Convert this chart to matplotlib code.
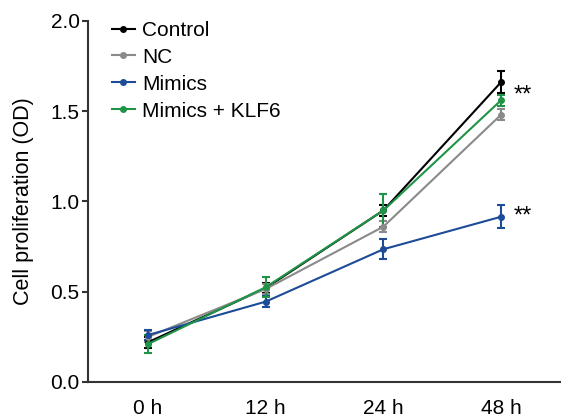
import matplotlib
matplotlib.use("Agg")
import matplotlib.pyplot as plt
from matplotlib.lines import Line2D
import numpy as np

plt.rcParams['font.family'] = ['Liberation Sans', 'DejaVu Sans']

timepoints = ["0 h", "12 h", "24 h", "48 h"]
series_names = ["Control", "NC", "Mimics", "Mimics + KLF6"]
control = [0.22, 0.52, 0.95, 1.66]
control_err = [0.03, 0.03, 0.03, 0.06]
nc = [0.25, 0.515, 0.86, 1.48]
nc_err = [0.03, 0.03, 0.03, 0.03]
mimics = [0.26, 0.445, 0.735, 0.915]
mimics_err = [0.03, 0.03, 0.055, 0.065]
klf6 = [0.21, 0.525, 0.95, 1.56]
klf6_err = [0.05, 0.055, 0.09, 0.03]
star_labels = ["**", "**"]
star_values = [1.585, 0.915]

colors = ["#000000", "#8a8a8a", "#1c4b98", "#1f9447"]

fig = plt.figure(figsize=(5.61, 4.17), dpi=100)
ax = fig.add_axes([0.157, 0.084, 0.843, 0.866])

x = np.arange(len(timepoints))
handles = []
for vals, errs, name, c in zip([control, nc, mimics, klf6],
                               [control_err, nc_err, mimics_err, klf6_err],
                               series_names, colors):
    ax.errorbar(x, vals, yerr=errs, color=c, lw=1.5, marker='o', ms=4,
                capsize=3, capthick=1.5, elinewidth=1.5)
    handles.append(Line2D([], [], color=c, lw=1.5, marker='o', ms=4, label=name))

for lab, v in zip(star_labels, star_values):
    ax.text(x[-1] + 0.11, v, lab, fontsize=17, va='center', ha='left')

ax.set_xlim(-0.51, 3.51)
ax.set_ylim(0, 2.0)
ax.set_yticks([0.0, 0.5, 1.0, 1.5, 2.0])
ax.set_yticklabels(["0.0", "0.5", "1.0", "1.5", "2.0"])
ax.set_xticks(x)
ax.set_xticklabels(timepoints)
ax.tick_params(axis='x', length=0, pad=12, labelsize=15)
ax.tick_params(axis='y', length=4, width=1.5, pad=2, labelsize=15, color='#333333')
ax.set_ylabel("Cell proliferation (OD)", fontsize=15.5, labelpad=12)

for s in ['top', 'right']:
    ax.spines[s].set_visible(False)
for s in ['left', 'bottom']:
    ax.spines[s].set_linewidth(1.5)
    ax.spines[s].set_color('#333333')

ax.legend(handles=handles, loc='upper left', bbox_to_anchor=(0.05, 1.0), frameon=False,
          fontsize=15, handlelength=1.1, handletextpad=0.35, labelspacing=0.38,
          borderaxespad=0, borderpad=0)

fig.savefig("out.png", dpi=100)
